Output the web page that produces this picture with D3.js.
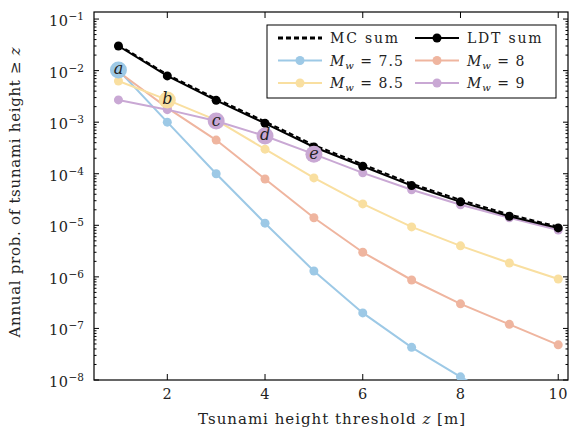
<!DOCTYPE html>
<meta charset="utf-8">
<style>
body { margin: 0; background: #fff; }
text { font-family: "DejaVu Serif", "Liberation Serif", serif; fill: #222; }
.line { fill: none; stroke-width: 2px; }
</style>
<body>
<script src="https://d3js.org/d3.v7.min.js"></script>
<script>

const width = 569;
const height = 433;
const margin = {top: 12, right: 1, bottom: 53, left: 94};
const innerWidth = width - margin.left - margin.right;
const innerHeight = height - margin.top - margin.bottom;

// tsunami height thresholds z [m]
const heights = [1, 2, 3, 4, 5, 6, 7, 8, 9, 10];

// annual exceedance probabilities
const mw75 = [1.03e-2, 1.0e-3, 1.0e-4, 1.1e-5, 1.3e-6, 2.0e-7, 4.3e-8, 1.15e-8, 3.5e-9, 1.2e-9];
const mw8 = [9.5e-3, 1.9e-3, 4.5e-4, 7.9e-5, 1.4e-5, 3.0e-6, 8.7e-7, 3.0e-7, 1.2e-7, 4.8e-8];
const mw85 = [6.3e-3, 2.7e-3, 1.1e-3, 3.0e-4, 8.3e-5, 2.6e-5, 9.3e-6, 4.0e-6, 1.86e-6, 9.1e-7];
const mw9 = [2.7e-3, 1.75e-3, 1.05e-3, 5.4e-4, 2.4e-4, 1.04e-4, 4.9e-5, 2.5e-5, 1.4e-5, 8.1e-6];
const ldtSum = [3.0e-2, 7.9e-3, 2.65e-3, 9.5e-4, 3.3e-4, 1.4e-4, 5.9e-5, 2.85e-5, 1.5e-5, 8.9e-6];
const mcSum = [3.15e-2, 8.4e-3, 2.85e-3, 1.03e-3, 3.6e-4, 1.52e-4, 6.4e-5, 3.1e-5, 1.62e-5, 9.4e-6];

const seriesNames = ["M_w = 7.5", "M_w = 8", "M_w = 8.5", "M_w = 9"];
const seriesColors = ["#9dc9e6", "#efb59f", "#f9dfa0", "#c9a8d4"];
const seriesValues = [mw75, mw8, mw85, mw9];

// letter markers: series index and height index for each letter
const markLetters = ["a", "b", "c", "d", "e"];
const markSeries = [0, 2, 3, 3, 3];
const markIndex = [0, 1, 2, 3, 4];

const xTicks = [2, 4, 6, 8, 10];
const yDecades = [-8, -7, -6, -5, -4, -3, -2, -1];

const xScale = d3.scaleLinear()
    .domain([0.5, 10.2])
    .range([0, innerWidth]);

const yScale = d3.scaleLog()
    .domain([1e-8, 0.137])
    .range([innerHeight, 0]);

const line = d3.line()
    .x((d, i) => xScale(heights[i]))
    .y(d => yScale(d));

const svg = d3.select("body").append("svg")
    .attr("width", width)
    .attr("height", height)
  .append("g")
    .attr("transform", `translate(${margin.left}, ${margin.top})`);

svg.append("clipPath").attr("id", "clip")
  .append("rect")
    .attr("width", innerWidth)
    .attr("height", innerHeight);

// minor log ticks
const minor = [];
yDecades.concat([0]).forEach(k => {
  for (let m = 2; m <= 9; m++) {
    const v = m * Math.pow(10, k - 1);
    if (v > 1e-8 && v < 0.137) minor.push(v);
  }
});

const ticks = svg.append("g").attr("stroke", "#000").attr("stroke-width", 1);
yDecades.forEach(d => {
  const y = yScale(Math.pow(10, d));
  ticks.append("line").attr("x1", 0).attr("x2", 5).attr("y1", y).attr("y2", y);
  ticks.append("line").attr("x1", innerWidth).attr("x2", innerWidth - 5).attr("y1", y).attr("y2", y);
});
minor.forEach(v => {
  ticks.append("line")
      .attr("x1", 0).attr("x2", 2.5)
      .attr("y1", yScale(v)).attr("y2", yScale(v));
  ticks.append("line")
      .attr("x1", innerWidth).attr("x2", innerWidth - 2.5)
      .attr("y1", yScale(v)).attr("y2", yScale(v));
});
xTicks.forEach(t => {
  ticks.append("line")
      .attr("x1", xScale(t)).attr("x2", xScale(t))
      .attr("y1", innerHeight).attr("y2", innerHeight - 6);
  ticks.append("line")
      .attr("x1", xScale(t)).attr("x2", xScale(t))
      .attr("y1", 0).attr("y2", 6);
});

// frame
svg.append("rect")
    .attr("width", innerWidth)
    .attr("height", innerHeight)
    .attr("fill", "none")
    .attr("stroke", "#000")
    .attr("stroke-width", 1.2);

// tick labels
svg.selectAll("text.xtick")
  .data(xTicks)
  .join("text")
    .attr("class", "xtick")
    .attr("x", d => xScale(d))
    .attr("y", innerHeight + 19)
    .attr("text-anchor", "middle")
    .style("font-size", "14.5px")
    .style("letter-spacing", "0.5px")
    .text(d => d);

const ylab = svg.selectAll("text.ytick")
  .data(yDecades)
  .join("text")
    .attr("class", "ytick")
    .attr("x", -10)
    .attr("y", d => yScale(Math.pow(10, d)) + 7)
    .attr("text-anchor", "end")
    .style("font-size", "14.5px");
ylab.append("tspan").style("letter-spacing", "0.5px").text("10");
ylab.append("tspan")
    .attr("dy", -6)
    .style("font-size", "10.5px")
    .text(d => "\u2212" + (-d));

// axis titles
const xt = svg.append("text")
    .attr("x", 332 - margin.left)
    .attr("y", innerHeight + 44)
    .attr("text-anchor", "middle")
    .style("font-size", "15px")
    .style("letter-spacing", "1px");
xt.append("tspan").text("Tsunami height threshold ");
xt.append("tspan").style("font-style", "italic").text("z");
xt.append("tspan").text(" [m]");

const yt = svg.append("text")
    .attr("transform", `translate(${-74}, ${192 - margin.top}) rotate(-90)`)
    .attr("text-anchor", "middle")
    .style("font-size", "15px")
    .style("letter-spacing", "0.7px");
yt.append("tspan").text("Annual prob. of tsunami height \u2265 ");
yt.append("tspan").style("font-style", "italic").text("z");

// data
const plot = svg.append("g").attr("clip-path", "url(#clip)");

seriesValues.forEach((vals, i) => {
  plot.append("path")
      .datum(vals)
      .attr("class", "line")
      .attr("stroke", seriesColors[i])
      .attr("d", line);
  plot.selectAll(null)
    .data(vals)
    .join("circle")
      .attr("cx", (d, j) => xScale(heights[j]))
      .attr("cy", d => yScale(d))
      .attr("r", 4.5)
      .attr("fill", seriesColors[i]);
});

plot.append("path")
    .datum(ldtSum)
    .attr("class", "line")
    .attr("stroke", "#000")
    .attr("d", line);
plot.selectAll("circle.ldt")
  .data(ldtSum)
  .join("circle")
    .attr("class", "ldt")
    .attr("cx", (d, j) => xScale(heights[j]))
    .attr("cy", d => yScale(d))
    .attr("r", 4.5)
    .attr("fill", "#000");

plot.append("path")
    .datum(mcSum)
    .attr("class", "line")
    .attr("stroke", "#000")
    .attr("stroke-width", 3)
    .attr("stroke-dasharray", "5,3")
    .attr("d", line);

// letter markers
markLetters.forEach((l, k) => {
  const s = markSeries[k];
  const v = seriesValues[s][markIndex[k]];
  const cx = xScale(heights[markIndex[k]]);
  const cy = yScale(v);
  plot.append("circle")
      .attr("cx", cx).attr("cy", cy).attr("r", 8.5)
      .attr("fill", seriesColors[s]);
  plot.append("text")
      .attr("x", cx).attr("y", cy + 4.5)
      .attr("text-anchor", "middle")
      .style("font-size", "16px")
      .style("font-style", "italic")
      .text(l);
});

// legend
const legend = svg.append("g").attr("transform", "translate(173, 13)");
legend.append("rect")
    .attr("width", 289)
    .attr("height", 73)
    .attr("fill", "#fff")
    .attr("stroke", "#000")
    .attr("stroke-width", 1);

const legendNames = ["MC sum", "LDT sum"].concat(seriesNames);
const legendColors = ["#000", "#000"].concat(seriesColors);
legendNames.forEach((name, i) => {
  const col = i % 2, row = Math.floor(i / 2);
  const g = legend.append("g")
      .attr("transform", `translate(${11 + col * 137}, ${13 + row * 22.5})`);
  g.append("line")
      .attr("x1", 0).attr("x2", 44)
      .attr("stroke", legendColors[i])
      .attr("stroke-width", i === 0 ? 3 : 2)
      .attr("stroke-dasharray", i === 0 ? "5,3" : null);
  if (i > 0) {
    g.append("circle").attr("cx", 22).attr("r", 4.5).attr("fill", legendColors[i]);
  }
  const t = g.append("text")
      .attr("x", 52)
      .attr("y", 5)
      .style("font-size", "14px");
  if (i < 2) {
    t.style("letter-spacing", "1.8px").text(name);
  } else {
    t.style("letter-spacing", "1px");
    t.append("tspan").style("font-style", "italic").text("M");
    t.append("tspan").style("font-style", "italic").style("font-size", "10px").attr("dy", 3).text("w");
    t.append("tspan").attr("dy", -3).text(" = " + name.split("= ")[1]);
  }
});

</script>
</body>
